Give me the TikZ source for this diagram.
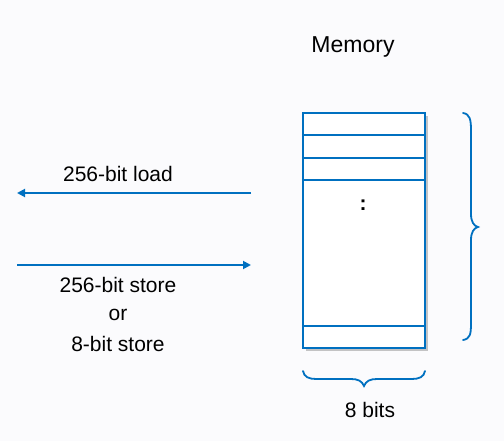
\documentclass[tikz,border=0pt]{standalone}
\usepackage{fontspec}
\setmainfont{Liberation Sans}
\usetikzlibrary{arrows.meta,shadows}
\definecolor{memblue}{RGB}{0,112,192}
\definecolor{bg}{RGB}{251,251,253}
\tikzset{
  lbl/.style={font=\fontsize{21}{25}\selectfont, text=black, inner sep=0pt},
  membox/.style={draw=memblue, line width=2.4pt, fill=white, minimum width=122pt, minimum height=235pt, inner sep=0pt,
    drop shadow={shadow xshift=3pt, shadow yshift=-3pt, opacity=0.45, fill=gray}},
  cellline/.style={draw=memblue, line width=1.8pt},
  busarrow/.style={draw=memblue, line width=1.8pt, -{Triangle[length=8pt,width=8pt]}},
  bracestyle/.style={draw=memblue, line width=1.8pt, line cap=round}
}
\begin{document}
\begin{tikzpicture}[x=1pt,y=-1pt]
\fill[bg] (0,0) rectangle (504,441);
\useasboundingbox (0,0) rectangle (504,441);
% memory box
\node[membox] (mem) at (364,230.5) {};
\node[lbl] (title) at (353,47) {\fontsize{23}{27}\selectfont Memory};
\draw[cellline] ([yshift=-23pt]mem.north west) -- ([yshift=-23pt]mem.north east);
\draw[cellline] ([yshift=-46pt]mem.north west) -- ([yshift=-46pt]mem.north east);
\draw[cellline] ([yshift=-68pt]mem.north west) -- ([yshift=-68pt]mem.north east);
\draw[cellline] ([yshift=23pt]mem.south west) -- ([yshift=23pt]mem.south east);
\node[lbl] (dots) at (363,205) {\textbf{:}};
% arrows
\coordinate (loadstart) at (251,193);
\coordinate (loadend) at (17,193);
\coordinate (storestart) at (17,265);
\coordinate (storeend) at (251,265);
\draw[busarrow] (loadstart) -- (loadend);
\draw[busarrow] (storestart) -- (storeend);
\node[lbl] (loadlbl) at (118,174) {256-bit load};
\node[lbl] (storelbl) at (118,285) {256-bit store};
\node[lbl] (orlbl) at (118,315) {or};
\node[lbl] (store8lbl) at (118,344) {8-bit store};
% right brace
\draw[bracestyle] (463,113) .. controls (470,114) and (471,120) .. (471,130)
  -- (471,214) .. controls (471,222) and (474,226) .. (478,227)
  .. controls (474,228) and (471,232) .. (471,240)
  -- (471,324) .. controls (471,334) and (470,339) .. (463,340);
% bottom brace
\draw[bracestyle] (303,371) .. controls (304,377) and (309,379) .. (316,379)
  -- (351,379) .. controls (358,379) and (362,381) .. (364,386)
  .. controls (366,381) and (370,379) .. (377,379)
  -- (412,379) .. controls (419,379) and (424,377) .. (425,371);
\node[lbl] (bitslbl) at (370,410) {8 bits};
\end{tikzpicture}
\end{document}
